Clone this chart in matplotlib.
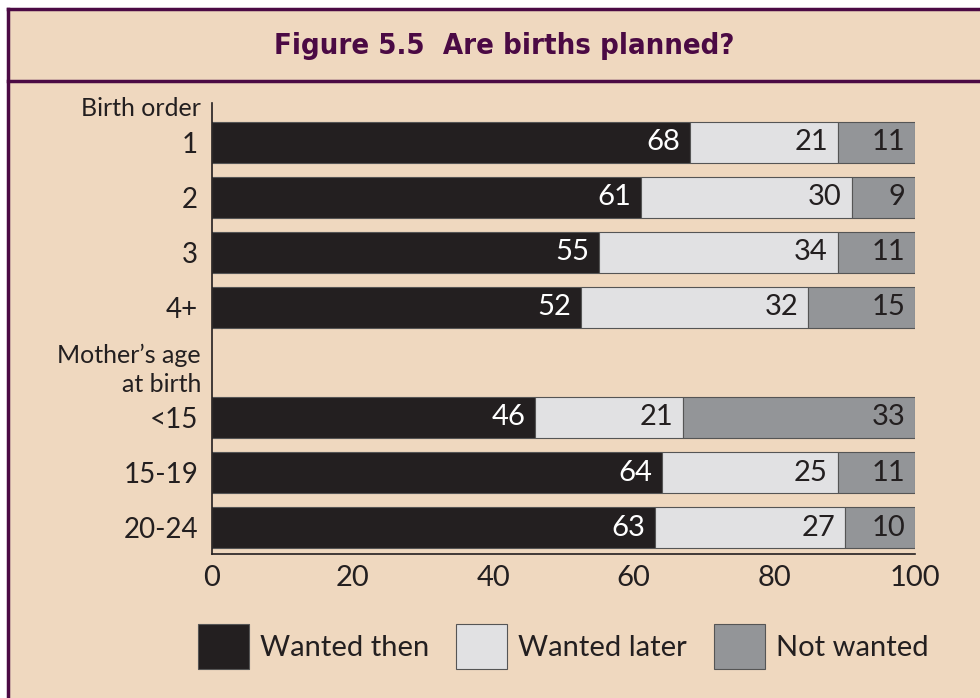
import matplotlib
matplotlib.use("Agg")
import matplotlib.pyplot as plt
from matplotlib.patches import Rectangle
from matplotlib.lines import Line2D

categories = ["1", "2", "3", "4+", "", "<15", "15-19", "20-24"]
wanted_then = [68, 61, 55, 52, None, 46, 64, 63]
wanted_later = [21, 30, 34, 32, None, 21, 25, 27]
not_wanted = [11, 9, 11, 15, None, 33, 11, 10]
series_names = ["Wanted then", "Wanted later", "Not wanted"]
xticks = [0, 20, 40, 60, 80, 100]

BG = "#efd8bf"
PURPLE = "#4b0a44"
COLORS = ["#231f20", "#e1e1e3", "#939598"]
TEXTC = ["white", "#231f20", "#231f20"]
FONT = ["Lato", "DejaVu Sans"]

plt.rcParams["font.family"] = FONT

fig = plt.figure(figsize=(9.8, 6.98), dpi=100)
fig.patch.set_facecolor("white")

# background panel + border
fig.patches.append(Rectangle((8 / 980, 0), 1, 1 - 9 / 698, transform=fig.transFigure,
                             facecolor=BG, edgecolor="none", zorder=-10))
fig.lines.append(Line2D([8 / 980, 1], [1 - 9 / 698] * 2, transform=fig.transFigure,
                        color=PURPLE, lw=2.5))
fig.lines.append(Line2D([8 / 980, 8 / 980], [0, 1 - 9 / 698], transform=fig.transFigure,
                        color=PURPLE, lw=2.5))
fig.lines.append(Line2D([8 / 980, 1], [1 - 81 / 698] * 2, transform=fig.transFigure,
                        color=PURPLE, lw=2.5))

fig.text(504 / 980, 1 - 46 / 698, "Figure 5.5  Are births planned?",
         family="DejaVu Sans", fontstretch="condensed", fontweight="bold",
         fontsize=21, color=PURPLE, ha="center", va="center")

ax = fig.add_axes([212 / 980, 1 - 554 / 698, (915 - 212) / 980, (554 - 103) / 698])
ax.set_facecolor("none")
ax.set_zorder(5)

ypos = list(range(len(categories)))
series = [wanted_then, wanted_later, not_wanted]
for i, y in enumerate(ypos):
    if wanted_then[i] is None:
        continue
    total = sum(vals[i] for vals in series)  # bars are scaled to 100%
    left = 0.0
    for s, vals in enumerate(series):
        v = vals[i]
        w = v * 100.0 / total
        ax.barh(y, w, left=left, height=0.745, color=COLORS[s],
                edgecolor="#555555", linewidth=0.8)
        ax.annotate(str(v), xy=(left + w, y), xytext=(-7, 0), textcoords="offset points",
                    ha="right", va="center", fontsize=21, color=TEXTC[s])
        left += w

ax.set_xlim(0, 100)
ax.set_ylim(7.48, -0.71)
ax.set_yticks(ypos)
ax.set_yticklabels(categories, fontsize=20, color="#231f20")
ax.set_xticks(xticks)
ax.set_xticklabels([str(t) for t in xticks], fontsize=21, color="#231f20")
ax.tick_params(axis="both", length=0)
ax.tick_params(axis="y", pad=10)
ax.tick_params(axis="x", pad=8)
for sp in ["top", "right"]:
    ax.spines[sp].set_visible(False)
for sp in ["left", "bottom"]:
    ax.spines[sp].set_color("#231f20")
    ax.spines[sp].set_linewidth(1.2)

fig.text(201 / 980, 1 - 108 / 698, "Birth order", fontsize=18, color="#231f20",
         ha="right", va="center")
fig.text(201 / 980, 1 - 355 / 698, "Mother\u2019s age", fontsize=18, color="#231f20",
         ha="right", va="center")
fig.text(201 / 980, 1 - 385 / 698, "at birth", fontsize=18, color="#231f20",
         ha="right", va="center")

# legend
leg_x = [198, 456, 714]
for s, name in enumerate(series_names):
    x0 = leg_x[s]
    fig.patches.append(Rectangle((x0 / 980, 1 - 669 / 698), 51 / 980, 45 / 698,
                                 transform=fig.transFigure, facecolor=COLORS[s],
                                 edgecolor="#555555", linewidth=0.8))
    fig.text((x0 + 62) / 980, 1 - 648 / 698, name, fontsize=21, color="#231f20",
             ha="left", va="center")

fig.savefig("out.png", dpi=100, facecolor=fig.get_facecolor())
